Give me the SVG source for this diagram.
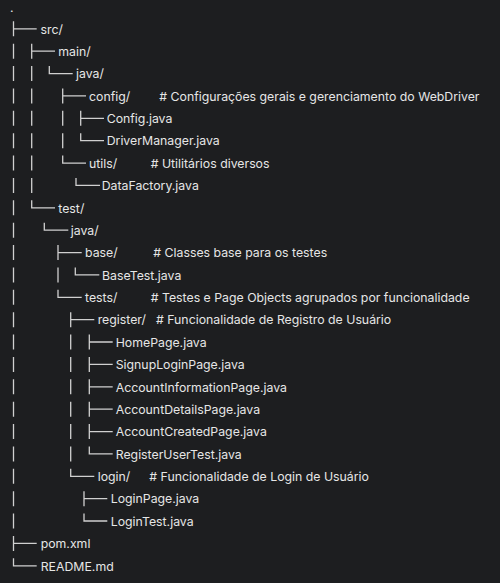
<svg xmlns="http://www.w3.org/2000/svg" width="500" height="583" viewBox="0 0 500 583">
<style>
.bg{fill:#1d1e20}
text{font-family:Inter,"Noto Sans","Liberation Sans",sans-serif;font-size:12.3px;fill:#e6e6e6}
.tree{stroke:#d0d0d0;stroke-width:1.3;fill:none}
</style>
<rect class="bg" x="0" y="0" width="500" height="583"/>
<g id="connectors" class="tree">
<path d="M13.5 21.3V36.3M13.5 28.8H36.7"/>
<path d="M13.5 43.7V58.7M13.5 66V81M13.5 88.4V103.4M13.5 110.8V125.8M13.5 133.2V148.2M13.5 155.5V170.5M13.5 177.9V192.9M13.5 200.3V215.3M13.5 222.7V237.7M13.5 245V260M13.5 267.4V282.4M13.5 289.8V304.8M13.5 312.2V327.2M13.5 334.5V349.5M13.5 356.9V371.9M13.5 379.3V394.3M13.5 401.7V416.7M13.5 424V439M13.5 446.4V461.4M13.5 468.8V483.8M13.5 491.2V506.2M13.5 513.5V528.5"/>
<path d="M13.5 535.9V550.9M13.5 543.4H36.7"/>
<path d="M13.5 558.3V565.8H36.7"/>
<path d="M31.7 43.7V58.7M31.7 51.2H55"/>
<path d="M31.7 66V81M31.7 88.4V103.4M31.7 110.8V125.8M31.7 133.2V148.2M31.7 155.5V170.5M31.7 177.9V192.9"/>
<path d="M31.7 200.3V207.8H55"/>
<path d="M49.3 66V73.6H72.7"/>
<path d="M62.7 88.4V103.4M62.7 95.9H86"/>
<path d="M62.7 110.8V125.8M62.7 133.2V148.2"/>
<path d="M80.7 110.8V125.8M80.7 118.3H104"/>
<path d="M80.7 133.2V140.7H104"/>
<path d="M62.7 155.5V163.1H86"/>
<path d="M76 177.9V185.4H100"/>
<path d="M44.3 222.7V230.2H68.3"/>
<path d="M58 245V260M58 252.6H81.7"/>
<path d="M58 267.4V282.4"/>
<path d="M75.3 267.4V274.9H99.3"/>
<path d="M58 289.8V297.3H81.7"/>
<path d="M70.7 312.2V327.2M70.7 319.7H94.3"/>
<path d="M70.7 334.5V349.5M70.7 356.9V371.9M70.7 379.3V394.3M70.7 401.7V416.7M70.7 424V439M70.7 446.4V461.4"/>
<path d="M89.3 334.5V349.5M89.3 342H112.7M89.3 356.9V371.9M89.3 364.4H112.7M89.3 379.3V394.3M89.3 386.8H112.7M89.3 401.7V416.7M89.3 409.2H112.7M89.3 424V439M89.3 431.6H112.7"/>
<path d="M89.3 446.4V453.9H112.7"/>
<path d="M70.7 468.8V476.3H94.3"/>
<path d="M84 491.2V506.2M84 498.7H107.3"/>
<path d="M84 513.5V521H107.3"/>
</g>
<g id="root"><text x="10" y="11.5">.</text></g>
<g id="src"><text x="40.5" y="33.5">src/</text></g>
<g id="main"><text x="58.3" y="55.9">main/</text></g>
<g id="main-java"><text x="76" y="78.3">java/</text></g>
<g id="config"><text x="89" y="100.6">config/</text><text x="159.3" y="100.6"># Configurações gerais e gerenciamento do WebDriver</text></g>
<g id="config-java"><text x="106.7" y="123">Config.java</text></g>
<g id="driver-manager"><text x="106.7" y="145.4">DriverManager.java</text></g>
<g id="utils"><text x="89" y="167.8">utils/</text><text x="150.7" y="167.8"># Utilitários diversos</text></g>
<g id="data-factory"><text x="101.7" y="190.1">DataFactory.java</text></g>
<g id="test"><text x="58.3" y="212.5">test/</text></g>
<g id="test-java"><text x="70.7" y="234.9">java/</text></g>
<g id="base"><text x="85" y="257.3">base/</text><text x="153.3" y="257.3"># Classes base para os testes</text></g>
<g id="base-test"><text x="102" y="279.6">BaseTest.java</text></g>
<g id="tests"><text x="85" y="302">tests/</text><text x="150.7" y="302"># Testes e Page Objects agrupados por funcionalidade</text></g>
<g id="register"><text x="97.7" y="324.4">register/</text><text x="156" y="324.4"># Funcionalidade de Registro de Usuário</text></g>
<g id="home-page"><text x="115.7" y="346.7">HomePage.java</text></g>
<g id="signup-login-page"><text x="115.7" y="369.1">SignupLoginPage.java</text></g>
<g id="account-information-page"><text x="115.7" y="391.5">AccountInformationPage.java</text></g>
<g id="account-details-page"><text x="115.7" y="413.9">AccountDetailsPage.java</text></g>
<g id="account-created-page"><text x="115.7" y="436.2">AccountCreatedPage.java</text></g>
<g id="register-user-test"><text x="115.7" y="458.6">RegisterUserTest.java</text></g>
<g id="login"><text x="97.7" y="481">login/</text><text x="149.3" y="481"># Funcionalidade de Login de Usuário</text></g>
<g id="login-page"><text x="110.7" y="503.4">LoginPage.java</text></g>
<g id="login-test"><text x="110.7" y="525.7">LoginTest.java</text></g>
<g id="pom"><text x="40.7" y="548.1">pom.xml</text></g>
<g id="readme"><text x="40.7" y="570.5">README.md</text></g>
</svg>
